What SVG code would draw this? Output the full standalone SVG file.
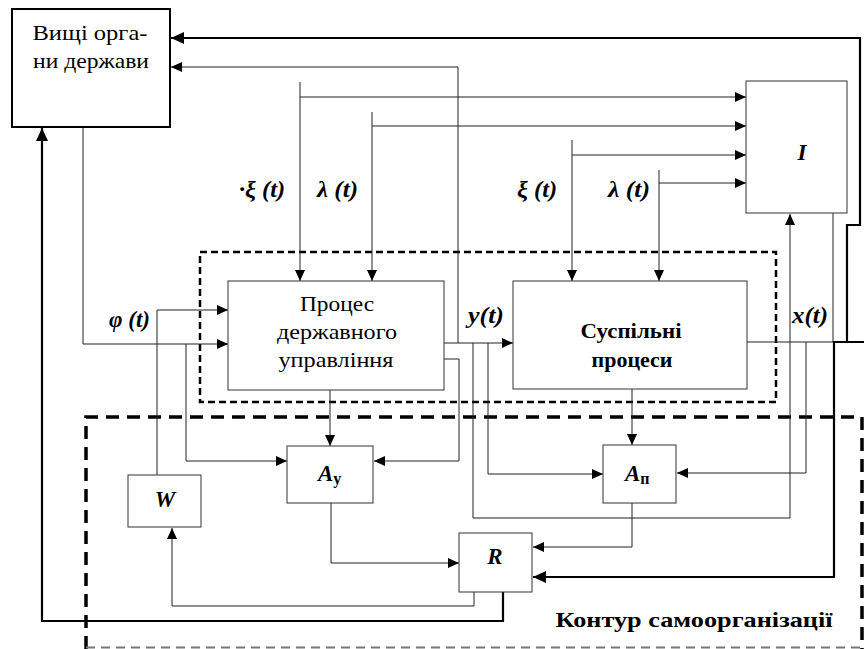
<svg xmlns="http://www.w3.org/2000/svg" width="864" height="649" viewBox="0 0 864 649">
<style>
.box{fill:#fff;stroke:#333;stroke-width:1}
.bx2{fill:#fff;stroke:#000;stroke-width:2}
text{font-family:'Liberation Serif','DejaVu Serif',serif}
.t{font-size:22px;fill:#000;text-anchor:middle}
.tb{font-size:22px;font-weight:bold;fill:#000;text-anchor:middle}
.lab{font-size:23px;font-weight:bold;font-style:italic;fill:#000}
.c{fill:none;stroke:#222;stroke-width:1}
.ck{fill:none;stroke:#000;stroke-width:2.2}
.d1{fill:none;stroke:#000;stroke-width:2.5;stroke-dasharray:7 4}
.d2{fill:none;stroke:#000;stroke-width:3.5;stroke-dasharray:13 8}
</style>
<defs>
<marker id="ah" markerWidth="12" markerHeight="10" refX="11" refY="5" orient="auto" markerUnits="userSpaceOnUse"><path d="M0,0 L11,5 L0,10 z" fill="#000"/></marker>
<marker id="ahb" markerWidth="14" markerHeight="12" refX="13" refY="6" orient="auto" markerUnits="userSpaceOnUse"><path d="M0,0 L13,6 L0,12 z" fill="#000"/></marker>
</defs>

<g id="contours">
<rect class="d1" x="200" y="252" width="576" height="150"/>
<path class="d2" d="M86,649 V417 H862 V649"/>
<line x1="86" y1="647.5" x2="862" y2="647.5" stroke="#777" stroke-width="2" stroke-dasharray="9 6"/>
</g>

<g id="connectors">
<path class="c" d="M458,343 V67 H171" marker-end="url(#ah)"/>
<path class="ck" d="M503,592 V621 H42 V128" marker-end="url(#ahb)"/>
<path class="c" d="M833,213 V342"/>
<path class="c" d="M747,342 H834"/>
<path class="ck" d="M864,342 H834 V577 H533" marker-end="url(#ahb)"/>
<path class="ck" d="M847,342 V225 H860 V38 H171" marker-end="url(#ahb)"/>
<path class="c" d="M83,127 V344 H228" marker-end="url(#ah)"/>
<path class="c" d="M157,475 V310 H228" marker-end="url(#ah)"/>
<path class="c" d="M186,344 V461 H287" marker-end="url(#ah)"/>
<path class="c" d="M300,82 V281" marker-end="url(#ah)"/>
<path class="c" d="M300,97 H746" marker-end="url(#ah)"/>
<path class="c" d="M372,112 V281" marker-end="url(#ah)"/>
<path class="c" d="M372,126 H746" marker-end="url(#ah)"/>
<path class="c" d="M572,140 V281" marker-end="url(#ah)"/>
<path class="c" d="M572,155 H746" marker-end="url(#ah)"/>
<path class="c" d="M659,170 V281" marker-end="url(#ah)"/>
<path class="c" d="M659,183 H746" marker-end="url(#ah)"/>
<path class="c" d="M444,343 H513" marker-end="url(#ah)"/>
<path class="c" d="M444,359 H459 V461 H374" marker-end="url(#ah)"/>
<path class="c" d="M330,390 V446" marker-end="url(#ah)"/>
<path class="c" d="M331,503 V563 H459" marker-end="url(#ah)"/>
<path class="c" d="M473,343 V518 H790 V214" marker-end="url(#ah)"/>
<path class="c" d="M488,343 V474 H603" marker-end="url(#ah)"/>
<path class="c" d="M632,389 V445" marker-end="url(#ah)"/>
<path class="c" d="M806,342 V473 H677" marker-end="url(#ah)"/>
<path class="c" d="M632,503 V547 H533" marker-end="url(#ah)"/>
<path class="c" d="M474,592 V606 H172 V528" marker-end="url(#ah)"/>
</g>

<g id="vyshchi">
<rect class="bx2" x="12" y="9" width="158" height="118"/>
<text class="t" x="90" y="40" textLength="115" lengthAdjust="spacingAndGlyphs">Вищі орга-</text>
<text class="t" x="91" y="68" textLength="116" lengthAdjust="spacingAndGlyphs">ни держави</text>
</g>

<g id="protses">
<rect class="box" x="228" y="281" width="216" height="109"/>
<text class="t" x="337" y="311" textLength="74" lengthAdjust="spacingAndGlyphs">Процес</text>
<text class="t" x="337" y="339" textLength="120" lengthAdjust="spacingAndGlyphs">державного</text>
<text class="t" x="336" y="367" textLength="115" lengthAdjust="spacingAndGlyphs">управління</text>
</g>

<g id="suspilni">
<rect class="box" x="513" y="281" width="234" height="108"/>
<text class="tb" x="631" y="338" textLength="101" lengthAdjust="spacingAndGlyphs">Суспільні</text>
<text class="tb" x="632" y="367" textLength="81" lengthAdjust="spacingAndGlyphs">процеси</text>
</g>

<g id="I">
<rect class="box" x="746" y="81" width="101" height="132"/>
<text class="lab" x="802" y="160" text-anchor="middle" font-size="24">I</text>
</g>

<g id="Ay">
<rect class="box" x="287" y="446" width="86" height="57"/>
<text class="lab" x="318" y="481" font-weight="normal" font-size="23">A<tspan font-style="normal" font-weight="bold" font-size="16" dy="3">у</tspan></text>
</g>

<g id="Ap">
<rect class="box" x="603" y="445" width="73" height="58"/>
<text class="lab" x="625" y="481" font-weight="normal" font-size="23">A<tspan font-style="normal" font-weight="bold" font-size="16" dy="3">п</tspan></text>
</g>

<g id="R">
<rect class="box" x="459" y="533" width="73" height="59"/>
<text class="lab" x="495" y="564" text-anchor="middle" font-weight="normal" font-size="23">R</text>
</g>

<g id="W">
<rect class="box" x="128" y="475" width="73" height="52"/>
<text class="lab" x="165" y="507" text-anchor="middle">W</text>
</g>

<g id="labels">
<text class="lab" x="239" y="197" textLength="46" lengthAdjust="spacingAndGlyphs">·ξ (t)</text>
<text class="lab" x="317" y="197" textLength="41" lengthAdjust="spacingAndGlyphs">λ (t)</text>
<text class="lab" x="517" y="197" textLength="40" lengthAdjust="spacingAndGlyphs">ξ (t)</text>
<text class="lab" x="608" y="197" textLength="42" lengthAdjust="spacingAndGlyphs">λ (t)</text>
<text class="lab" x="109" y="327" textLength="41" lengthAdjust="spacingAndGlyphs">φ (t)</text>
<text class="lab" x="468" y="323" textLength="36" lengthAdjust="spacingAndGlyphs">y(t)</text>
<text class="lab" x="792" y="323" textLength="36" lengthAdjust="spacingAndGlyphs">x(t)</text>
<text class="tb" x="694" y="627" font-size="23" textLength="277" lengthAdjust="spacingAndGlyphs">Контур самоорганізації</text>
</g>
</svg>
